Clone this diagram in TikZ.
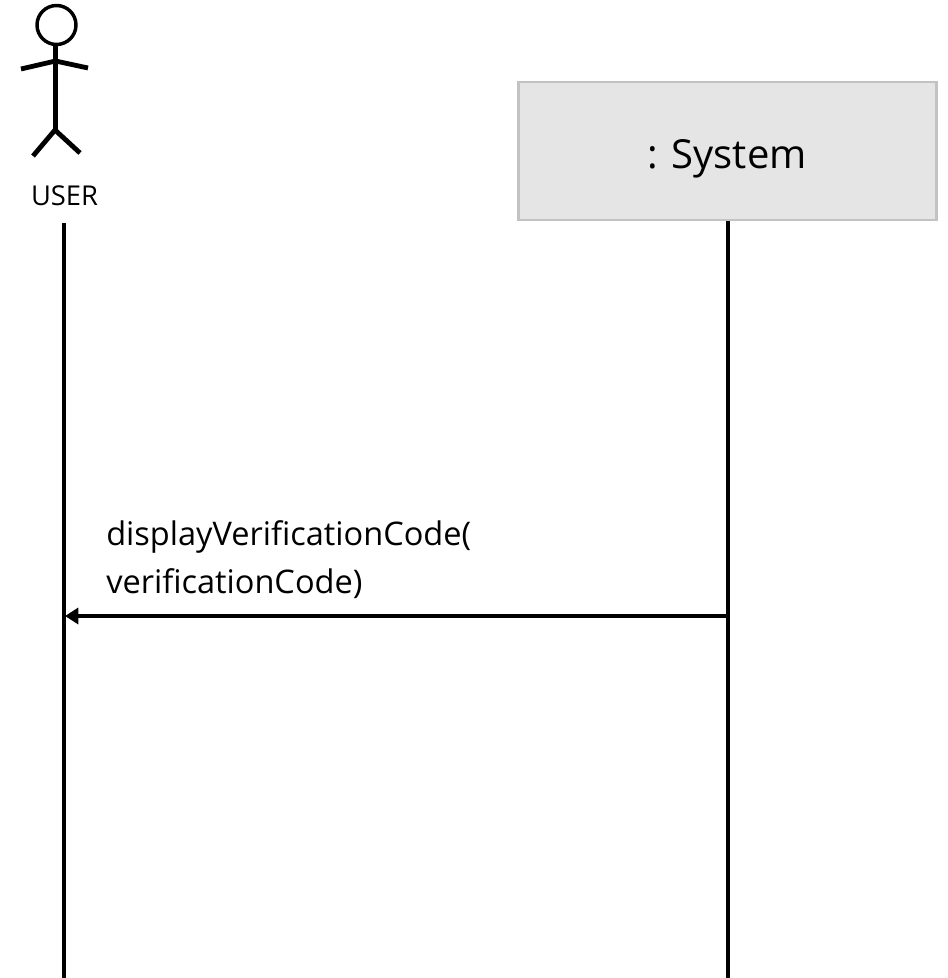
\documentclass[tikz,border=0pt]{standalone}
\usepackage{fontspec}
\setmainfont{Open Sans}
\usetikzlibrary{arrows.meta}
\tikzset{
  px/.style={x=0.75pt,y=-0.75pt},
  figure/.style={line width=3.6pt,line cap=butt,line join=round},
  lifeline/.style={line width=3pt},
  objbox/.style={draw=black!24,fill=black!10,line width=2.2pt,minimum width=313.5pt,minimum height=103.5pt,inner sep=0pt},
  sysname/.style={inner sep=0pt,font=\fontsize{30}{36}\selectfont},
  msglabel/.style={align=left,anchor=north west,inner sep=0pt,font=\fontsize{24.4}{36.5}\selectfont},
  userlabel/.style={inner sep=0pt,font=\fontsize{20.5}{24}\selectfont},
  msg/.style={line width=3pt,-{Triangle[length=10pt,width=12pt]}}
}
\begin{document}
\begin{tikzpicture}[px]
\useasboundingbox (0,0) rectangle (948,978);
\draw[figure,line width=2.6pt] (56.5,25) circle (19.5);
\draw[figure] (55.5,45) -- (55.5,130);
\draw[figure] (21,69) -- (55.5,61) -- (88,68);
\draw[figure] (33,156) -- (55,130) -- (80,153);
\node[userlabel] (user) at (64.5,196) {USER};
\node[objbox] (sys) at (727.5,151) {};
\node[sysname] (sysn) at (727,159) {: System};
\coordinate (utop) at (64,223);
\coordinate (ubot) at (64,978);
\coordinate (stop) at (728,221);
\coordinate (sbot) at (728,978);
\coordinate (mfrom) at (728,616);
\coordinate (mto) at (65,616);
\draw[lifeline] (utop) -- (ubot);
\draw[lifeline] (stop) -- (sbot);
\draw[msg] (mfrom) -- (mto);
\node[msglabel] (label) at (106,520) {displayVerificationCode(\\verificationCode)};
\end{tikzpicture}
\end{document}
